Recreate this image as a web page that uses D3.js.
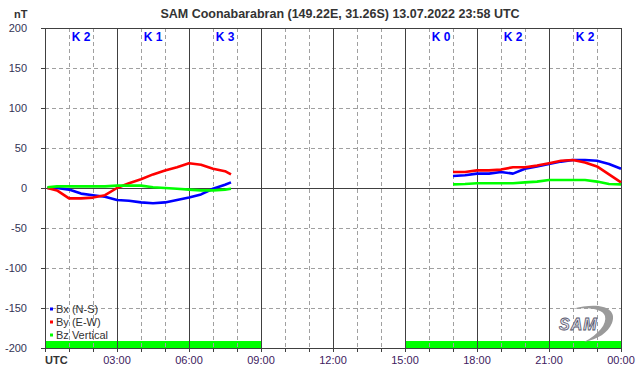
<!DOCTYPE html>
<html>
<head>
<meta charset="utf-8">
<script src="https://cdn.jsdelivr.net/npm/d3@7"></script>
<style>
  body { margin: 0; background: #fff; }
  text { font-family: "Liberation Sans", Arial, sans-serif; }
</style>
</head>
<body>
<div id="chart"></div>
<script>
var width = 642,
    height = 376;

// first data block (00:00 - 07:45 UTC)
var timeA = [0.1, 0.5, 1, 1.5, 2, 2.5, 3, 3.5, 4, 4.5, 5, 5.5, 6, 6.5, 7, 7.5, 7.75];
var bxA = [0, 0, -2, -7, -9, -11, -15, -16, -18, -19, -18, -15, -12, -8, -1, 4, 7];
var byA = [0, -3, -13, -13, -12, -9, 0, 6, 11, 17, 22, 26, 31, 29, 24, 21, 17];
var bzA = [1, 2, 2, 2, 2, 2, 3, 3, 3, 1, 0, -1, -2, -3, -3, -2, -1];

// second data block (17:00 - 24:00 UTC)
var timeB = [17, 17.5, 18, 18.5, 19, 19.5, 20, 20.5, 21, 21.5, 22, 22.5, 23, 23.5, 24];
var bxB = [15, 16, 18, 18, 20, 18, 24, 27, 30, 33, 35, 35, 34, 30, 24];
var byB = [20, 20, 22, 22, 23, 26, 26, 28, 31, 34, 35, 32, 27, 17, 7];
var bzB = [4.5, 5, 6, 6, 6, 6, 7, 8, 10, 10, 10, 10, 8, 5, 4.5];

var seriesNames = ["Bx (N-S)", "By (E-W)", "Bz Vertical"];
var seriesColors = ["#0000ff", "#ff0000", "#00ff00"];

var kHours = [1.5, 4.5, 7.5, 16.5, 19.5, 22.5];
var kLabels = ["K 2", "K 1", "K 3", "K 0", "K 2", "K 2"];

var xTickHours = [0, 3, 6, 9, 12, 15, 18, 21, 24];
var xTickLabels = ["UTC", "03:00", "06:00", "09:00", "12:00", "15:00", "18:00", "21:00", "00:00"];
var yTicks = [-200, -150, -100, -50, 0, 50, 100, 150, 200];

var coverage = [[0, 9], [15, 24]];

var svg = d3.select("#chart").append("svg")
    .attr("width", width)
    .attr("height", height);

var x = d3.scaleLinear().domain([0, 24]).range([45, 621]);
var y = d3.scaleLinear().domain([-200, 200]).range([348, 28]);

// coverage bars
svg.selectAll("rect.cov")
    .data(coverage)
  .enter().append("rect")
    .attr("class", "cov")
    .attr("x", function(d) { return x(d[0]); })
    .attr("width", function(d) { return x(d[1]) - x(d[0]); })
    .attr("y", y(-200) - 7)
    .attr("height", 7)
    .attr("fill", "#00ff00");

// horizontal dashed grid
svg.selectAll("line.hgrid")
    .data(yTicks.filter(function(v) { return v != 0 && Math.abs(v) != 200; }))
  .enter().append("line")
    .attr("class", "hgrid")
    .attr("x1", x(0)).attr("x2", x(24))
    .attr("y1", function(d) { return y(d) + 0.5; })
    .attr("y2", function(d) { return y(d) + 0.5; })
    .attr("stroke", "#a0a0a0")
    .attr("stroke-dasharray", "4,3");

// vertical grid: solid every 3h, dashed each hour
var hours = d3.range(1, 24);
svg.selectAll("line.vgrid")
    .data(hours)
  .enter().append("line")
    .attr("class", "vgrid")
    .attr("x1", function(d) { return x(d) + 0.5; })
    .attr("x2", function(d) { return x(d) + 0.5; })
    .attr("y1", y(200)).attr("y2", y(-200))
    .attr("stroke", function(d) { return d % 3 == 0 ? "#404040" : "#a0a0a0"; })
    .attr("stroke-dasharray", function(d) { return d % 3 == 0 ? null : "4,3"; });

// zero line
svg.append("line")
    .attr("x1", x(0)).attr("x2", x(24))
    .attr("y1", y(0) + 0.5).attr("y2", y(0) + 0.5)
    .attr("stroke", "#404040");

// frame
svg.append("rect")
    .attr("x", x(0) + 0.5).attr("y", y(200) + 0.5)
    .attr("width", x(24) - x(0)).attr("height", y(-200) - y(200))
    .attr("fill", "none")
    .attr("stroke", "#404040");

// y ticks and labels
svg.selectAll("line.yt")
    .data(yTicks)
  .enter().append("line")
    .attr("x1", x(0) - 4).attr("x2", x(0))
    .attr("y1", function(d) { return y(d) + 0.5; })
    .attr("y2", function(d) { return y(d) + 0.5; })
    .attr("stroke", "#404040");

svg.selectAll("text.yl")
    .data(yTicks)
  .enter().append("text")
    .attr("x", 27)
    .attr("y", function(d) { return y(d) + 4; })
    .attr("text-anchor", "end")
    .attr("font-size", 11)
    .attr("fill", "#333355")
    .text(function(d) { return d; });

// x ticks and labels
svg.selectAll("line.xt")
    .data(d3.range(0, 25))
  .enter().append("line")
    .attr("x1", function(d) { return x(d) + 0.5; })
    .attr("x2", function(d) { return x(d) + 0.5; })
    .attr("y1", y(-200)).attr("y2", y(-200) + 4)
    .attr("stroke", "#404040");

svg.selectAll("text.xl")
    .data(xTickHours)
  .enter().append("text")
    .attr("x", function(d) { return x(d); })
    .attr("y", 364)
    .attr("text-anchor", function(d, i) { return i == 0 ? "start" : "middle"; })
    .attr("font-size", 11)
    .attr("font-weight", function(d, i) { return i == 0 ? "bold" : null; })
    .attr("fill", function(d, i) { return i == 0 ? "#333333" : "#402060"; })
    .text(function(d, i) { return xTickLabels[i]; });

// K index labels
svg.selectAll("text.k")
    .data(kHours)
  .enter().append("text")
    .attr("x", function(d) { return x(d); })
    .attr("y", 41)
    .attr("text-anchor", "middle")
    .attr("font-size", 12)
    .attr("font-weight", "bold")
    .attr("fill", "#0000ff")
    .attr("xml:space", "preserve")
    .text(function(d, i) { return kLabels[i]; });

// data lines
var line = d3.line()
    .x(function(d) { return x(d[0]); })
    .y(function(d) { return y(d[1]); });

var blocks = [
  [timeA, [bxA, byA, bzA]],
  [timeB, [bxB, byB, bzB]]
];

seriesColors.forEach(function(c, s) {
  blocks.forEach(function(b) {
    var pts = b[0].map(function(t, i) { return [t, b[1][s][i]]; });
    svg.append("path")
        .datum(pts)
        .attr("d", line)
        .attr("fill", "none")
        .attr("stroke", c)
        .attr("stroke-width", 2.6)
        .attr("stroke-linejoin", "bevel");
  });
});

// legend
var legend = svg.selectAll("g.leg")
    .data(seriesNames)
  .enter().append("g")
    .attr("transform", function(d, i) { return "translate(50," + (309 + i * 13) + ")"; });

legend.append("rect")
    .attr("x", 0).attr("y", -1.5)
    .attr("width", 3).attr("height", 3)
    .attr("fill", function(d, i) { return seriesColors[i]; });

legend.append("text")
    .attr("x", 6).attr("y", 4)
    .attr("font-size", 11)
    .attr("fill", "#333333")
    .text(function(d) { return d; });

// title
svg.append("text")
    .attr("x", 340).attr("y", 18)
    .attr("text-anchor", "middle")
    .attr("font-size", 12.5)
    .attr("font-weight", "bold")
    .attr("fill", "#333333")
    .text("SAM Coonabarabran (149.22E, 31.26S) 13.07.2022 23:58 UTC");

svg.append("text")
    .attr("x", 14).attr("y", 18)
    .attr("font-size", 11)
    .attr("font-weight", "bold")
    .attr("fill", "#333333")
    .text("nT");

// SAM logo
var logo = svg.append("g").attr("transform", "translate(556,314)");
logo.append("path")
    .attr("d", "M16,-5 C44,-13 62,-6 56,9 C52,19 42,25 28,28 C43,20 51,10 49,2 C47,-5 33,-7 16,-5 Z")
    .attr("fill", "#9a9a9a");
logo.append("text")
    .attr("x", 3).attr("y", 16)
    .attr("font-size", 16)
    .attr("font-style", "italic")
    .attr("font-weight", "bold")
    .attr("fill", "#e6e6ee")
    .attr("stroke", "#55556a")
    .attr("stroke-width", 0.8)
    .attr("letter-spacing", 1)
    .text("SAM");
</script>
</body>
</html>
